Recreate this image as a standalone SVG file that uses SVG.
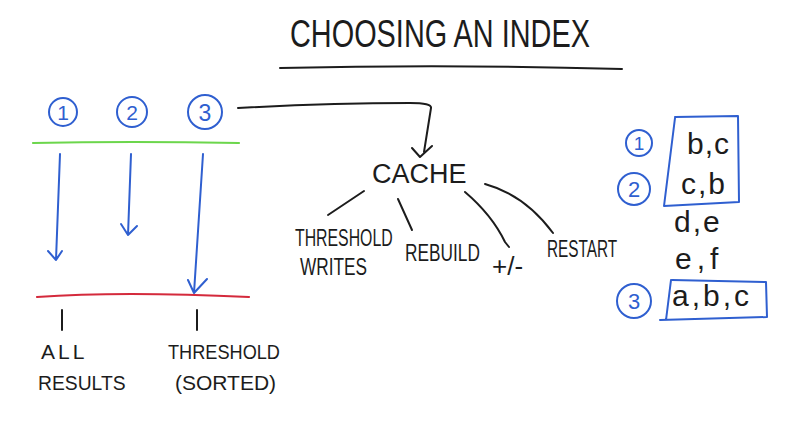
<svg xmlns="http://www.w3.org/2000/svg" width="793" height="430" viewBox="0 0 793 430">
<defs>
<style>
.ink{fill:none;stroke:#1c1c1c;stroke-width:2;stroke-linecap:round;stroke-linejoin:round}
.blue{fill:none;stroke:#2f5fd0;stroke-width:2;stroke-linecap:round;stroke-linejoin:round}
.t{font-family:"Liberation Sans","DejaVu Sans",sans-serif;fill:#1c1c1c}
.bt{font-family:"Liberation Sans","DejaVu Sans",sans-serif;fill:#2f5fd0}
</style>
</defs>
<rect width="793" height="430" fill="#ffffff"/>

<g id="title">
<text class="t" transform="translate(290,47) scale(0.76,1)" font-size="38">CHOOSING AN INDEX</text>
<path class="ink" d="M280,68 Q450,64 622,69"/>
</g>

<g id="left-steps">
<circle class="blue" cx="63" cy="112" r="14"/>
<text class="bt" x="63" y="120" font-size="21" text-anchor="middle">1</text>
<circle class="blue" cx="132" cy="112" r="15"/>
<text class="bt" x="132" y="120" font-size="21" text-anchor="middle">2</text>
<circle class="blue" cx="205" cy="112" r="17"/>
<text class="bt" x="205" y="121" font-size="23" text-anchor="middle">3</text>
</g>

<g id="bars">
<path d="M33,143 Q130,141 239,143" fill="none" stroke="#6cd64c" stroke-width="2.2" stroke-linecap="round"/>
<path d="M37,297 Q120,291 249,297" fill="none" stroke="#d42a3c" stroke-width="2.2" stroke-linecap="round"/>
</g>

<g id="connectors">
<path class="blue" d="M60,154 L56,260 M48,251 L56,260 L62,251"/>
<path class="blue" d="M131,154 L128,235 M121,224 L128,235 L137,226"/>
<path class="blue" d="M203,154 L194,293 M188,280 L194,293 L207,279"/>
<path class="ink" d="M62,310 L62,330 M197,310 L197,330"/>
<path class="ink" d="M238,108 Q330,103 410,103 Q432,103 431,108 L424,152 M412,148 L420,157 L432,146"/>
<path class="ink" d="M364,191 L328,215"/>
<path class="ink" d="M398,199 L412,230"/>
<path class="ink" d="M465,192 Q492,215 505,242 L509,247"/>
<path class="ink" d="M485,184 Q525,195 553,233"/>
</g>

<g id="all-results">
<text class="t" x="41" y="359" font-size="21" letter-spacing="3">ALL</text>
<text class="t" transform="translate(38,390) scale(0.92,1)" font-size="21">RESULTS</text>
</g>
<g id="threshold-sorted">
<text class="t" transform="translate(168,359) scale(0.865,1)" font-size="21">THRESHOLD</text>
<text class="t" x="175" y="390" font-size="21">(SORTED)</text>
</g>

<g id="cache">
<text class="t" x="372" y="183" font-size="27" letter-spacing="0">CACHE</text>
</g>
<g id="threshold-writes">
<text class="t" transform="translate(295,246) scale(0.66,1)" font-size="24">THRESHOLD</text>
<text class="t" transform="translate(300,275) scale(0.75,1)" font-size="23">WRITES</text>
</g>
<g id="rebuild">
<text class="t" transform="translate(405,261) scale(0.72,1)" font-size="24">REBUILD</text>
</g>
<g id="plusminus">
<text class="t" x="492" y="275" font-size="26">+/-</text>
</g>
<g id="restart">
<text class="t" transform="translate(547,257) scale(0.64,1)" font-size="24">RESTART</text>
</g>

<g id="index-list">
<circle class="blue" cx="639" cy="143" r="13"/>
<text class="bt" x="639" y="150" font-size="19" text-anchor="middle">1</text>
<circle class="blue" cx="634" cy="189" r="16"/>
<text class="bt" x="634" y="197" font-size="22" text-anchor="middle">2</text>
<circle class="blue" cx="634" cy="301" r="17"/>
<text class="bt" x="634" y="309" font-size="22" text-anchor="middle">3</text>
<path class="blue" d="M675,117 L738,116 L739,202 L664,206 L675,118"/>
<path class="blue" d="M672,280 L766,282 L767,317 L660,320 M671,280 L666,320"/>
<text class="t" x="687" y="154" font-size="30" letter-spacing="1">b,c</text>
<text class="t" x="681" y="194" font-size="30" letter-spacing="2">c,b</text>
<text class="t" x="674" y="232" font-size="30" letter-spacing="2">d,e</text>
<text class="t" x="675" y="269" font-size="30" letter-spacing="5">e,f</text>
<text class="t" x="672" y="306" font-size="30" letter-spacing="3">a,b,c</text>
</g>
</svg>
